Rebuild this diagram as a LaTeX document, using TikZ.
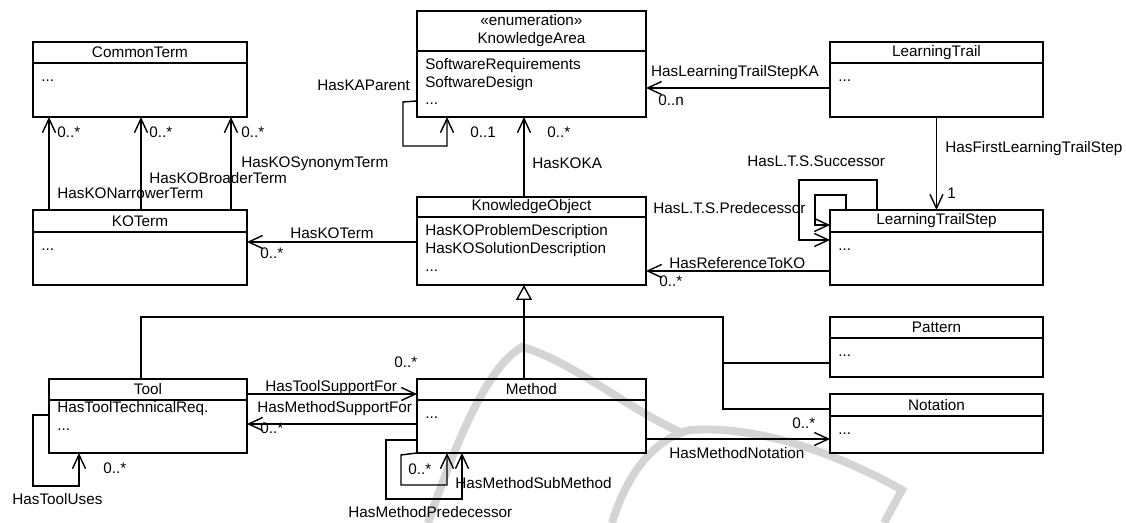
\documentclass[tikz,border=0pt]{standalone}
\usepackage{fontspec}
\setmainfont{Liberation Sans}
\usetikzlibrary{positioning,arrows.meta}

\begin{document}
\begin{tikzpicture}[x=0.02cm, y=-0.02cm, font=\fontsize{8.7}{10.2}\selectfont,
 headnode/.style={draw, line width=0.8pt, outer sep=0pt, inner sep=0pt, anchor=north west, align=center},
 bodynode/.style={draw, line width=0.8pt, outer sep=0pt, inner sep=0pt},
 attrnode/.style={anchor=north west, align=left, inner xsep=4.5pt, inner ysep=3pt},
 textnode/.style={anchor=west, inner sep=0pt, text height=6.2pt, text depth=0pt},
 assoc/.style={line width=0.8pt, -{Straight Barb[length=2.8mm, width=2.6mm]}},
 inherit/.style={line width=0.8pt, -{Triangle[length=3mm, width=3.2mm, fill=white]}},
 plain/.style={line width=0.8pt},
 watermark/.style={line width=4.5pt, black!17}, ]

 \useasboundingbox (0,0) rectangle (1126,523);

 % watermark
 \draw[watermark] (428,523) .. controls (460,430) and (490,365) .. (522,347) .. controls (570,360) and (630,410) .. (680,432);
 \draw[watermark] (612,523) .. controls (625,480) and (650,440) .. (690,430) .. controls (760,425) and (840,455) .. (902,490) -- (884,523);

 % classes
 \node[headnode, minimum width=4.28cm, minimum height=0.42cm] (ct-h) at (33,42) {CommonTerm};
 \node[bodynode, minimum width=4.28cm, minimum height=1.08cm, below=0pt of ct-h] (ct-b) {};
 \node[attrnode] (ct-a) at (ct-b.north west) {\strut...};

 \node[headnode, minimum width=4.28cm, minimum height=0.44cm] (kot-h) at (33,210) {KOTerm};
 \node[bodynode, minimum width=4.28cm, minimum height=1.06cm, below=0pt of kot-h] (kot-b) {};
 \node[attrnode] (kot-a) at (kot-b.north west) {\strut...};

 \node[headnode, minimum width=4.58cm, minimum height=0.80cm] (ka-h) at (417,11) {«enumeration»\\KnowledgeArea};
 \node[bodynode, minimum width=4.58cm, minimum height=1.32cm, below=0pt of ka-h] (ka-b) {};
 \node[attrnode] (ka-a) at (ka-b.north west) {\strut SoftwareRequirements\\SoftwareDesign\\...};

 \node[headnode, minimum width=4.26cm, minimum height=0.42cm] (lt-h) at (830,42) {LearningTrail};
 \node[bodynode, minimum width=4.26cm, minimum height=1.08cm, below=0pt of lt-h] (lt-b) {};
 \node[attrnode] (lt-a) at (lt-b.north west) {\strut...};

 \node[headnode, minimum width=4.58cm, minimum height=0.40cm] (ko-h) at (417,197) {KnowledgeObject};
 \node[bodynode, minimum width=4.58cm, minimum height=1.36cm, below=0pt of ko-h] (ko-b) {};
 \node[attrnode] (ko-a) at (ko-b.north west) {\strut HasKOProblemDescription\\HasKOSolutionDescription\\...};

 \node[headnode, minimum width=4.26cm, minimum height=0.44cm] (lts-h) at (830,210) {LearningTrailStep};
 \node[bodynode, minimum width=4.26cm, minimum height=1.06cm, below=0pt of lts-h] (lts-b) {};
 \node[attrnode] (lts-a) at (lts-b.north west) {\strut...};

 \node[headnode, minimum width=4.26cm, minimum height=0.42cm] (pat-h) at (830,317) {Pattern};
 \node[bodynode, minimum width=4.26cm, minimum height=0.78cm, below=0pt of pat-h] (pat-b) {};
 \node[attrnode] (pat-a) at (pat-b.north west) {\strut...};

 \node[headnode, minimum width=4.26cm, minimum height=0.44cm] (not-h) at (830,394) {Notation};
 \node[bodynode, minimum width=4.26cm, minimum height=0.74cm, below=0pt of not-h] (not-b) {};
 \node[attrnode] (not-a) at (not-b.north west) {\strut...};

 \node[headnode, minimum width=3.96cm, minimum height=0.42cm] (tool-h) at (49,379) {Tool};
 \node[bodynode, minimum width=3.96cm, minimum height=1.06cm, below=0pt of tool-h] (tool-b) {};
 \node[attrnode, yshift=0.12cm] (tool-a) at (tool-b.north west) {\strut HasToolTechnicalReq.\\...};

 \node[headnode, minimum width=4.58cm, minimum height=0.42cm] (meth-h) at (417,379) {Method};
 \node[bodynode, minimum width=4.58cm, minimum height=1.06cm, below=0pt of meth-h] (meth-b) {};
 \node[attrnode] (meth-a) at (meth-b.north west) {\strut...};

 % associations
 \draw[assoc] ([xshift=0.32cm]kot-h.north west) -- ([xshift=0.32cm]ct-b.south west);
 \draw[assoc] ([xshift=2.16cm]kot-h.north west) -- ([xshift=2.16cm]ct-b.south west);
 \draw[assoc] ([xshift=3.96cm]kot-h.north west) -- ([xshift=3.96cm]ct-b.south west);

 \draw[assoc] ([yshift=0.32cm]ka-b.south west) -- ++(-14,1) -- ++(0,44) -| ([xshift=0.6cm]ka-b.south west);
 \draw[assoc] ([xshift=-0.15cm]ko-h.north) -- ([xshift=-0.15cm]ka-b.south);

 \coordinate (lt-k) at ([yshift=-0.5cm]lt-b.north west);
 \draw[assoc] (lt-k) -- (lt-k -| ka-b.east);
 \draw[assoc] (lt-b.south) -- (lts-h.north);

 \draw[assoc] ([xshift=0.94cm]lts-h.north west) |- ++(-78,-30) |- ([yshift=-0.6cm]lts-h.north west);
 \draw[assoc] ([xshift=0.32cm]lts-h.north west) |- ++(-31,-15) |- ([yshift=-0.3cm]lts-h.north west);

 \coordinate (lts-r) at ([yshift=-0.78cm]lts-b.north west);
 \draw[assoc] (lts-r) -- (lts-r -| ko-b.east);

 \coordinate (ko-t) at ([yshift=-0.5cm]ko-b.north west);
 \draw[assoc] (ko-t) -- (ko-t -| kot-b.east);

 \draw[assoc] ([yshift=-0.3cm]tool-h.north east) -- ([yshift=-0.3cm]meth-h.north west);
 \draw[assoc] ([yshift=-0.48cm]meth-b.north west) -- ([yshift=-0.48cm]tool-b.north east);
 \draw[assoc] ([yshift=-0.3cm]tool-b.north west) -- ++(-16,0) -- ++(0,71) -| ([xshift=0.6cm]tool-b.south west);

 \draw[assoc] (meth-b.south west) -- ++(-16,2) -- ++(0,30) -| ([xshift=0.6cm]meth-b.south west);
 \draw[assoc] ([yshift=0.26cm]meth-b.south west) -- ++(-31,0) -- ++(0,59) -| ([xshift=0.9cm]meth-b.south west);

 \coordinate (meth-n) at ([yshift=-0.78cm]meth-b.north east);
 \draw[assoc] (meth-n) -- (meth-n -| not-b.west);

 % inheritance
 \draw[inherit] ([xshift=-0.15cm]meth-h.north) -- ([xshift=-0.15cm]ko-b.south);
 \coordinate (split) at (723,317);
 \coordinate (pat-l) at ([yshift=-0.5cm]pat-b.north west);
 \draw[plain] ([xshift=-0.14cm]tool-h.north) |- (split) |- ([yshift=-0.3cm]not-h.north west);
 \draw[plain] (split |- pat-l) -- (pat-l);

 % labels
 \node[textnode] (m-narrow) at (57,132) {0..*};
 \node[textnode] (m-broad) at (149,132) {0..*};
 \node[textnode] (m-syn) at (241,132) {0..*};
 \node[textnode] (l-narrow) at (57,193) {HasKONarrowerTerm};
 \node[textnode] (l-broad) at (149,178) {HasKOBroaderTerm};
 \node[textnode] (l-syn) at (241,162) {HasKOSynonymTerm};
 \node[textnode] (l-kap) at (317,85) {HasKAParent};
 \node[textnode] (m-kap) at (470,132) {0..1};
 \node[textnode] (m-koka) at (547,132) {0..*};
 \node[textnode] (l-koka) at (532,163) {HasKOKA};
 \node[textnode, anchor=center] (l-ltska) at (735,71) {HasLearningTrailStepKA};
 \node[textnode] (m-ltska) at (658,100) {0..n};
 \node[textnode] (l-first) at (945,147) {HasFirstLearningTrailStep};
 \node[textnode] (m-first) at (947,193) {1};
 \node[textnode] (l-succ) at (747,161) {HasL.T.S.Successor};
 \node[textnode] (l-pred) at (653,208) {HasL.T.S.Predecessor};
 \node[textnode] (l-ref) at (669,263) {HasReferenceToKO};
 \node[textnode] (m-ref) at (659,281) {0..*};
 \node[textnode] (l-kot) at (290,233) {HasKOTerm};
 \node[textnode] (m-kot) at (260,253) {0..*};
 \node[textnode] (l-tsf) at (265,386) {HasToolSupportFor};
 \node[textnode] (m-tsf) at (394,362) {0..*};
 \node[textnode] (l-msf) at (257,407) {HasMethodSupportFor};
 \node[textnode] (m-msf) at (260,428) {0..*};
 \node[textnode] (l-uses) at (12,499) {HasToolUses};
 \node[textnode] (m-uses) at (103,468) {0..*};
 \node[textnode] (l-note) at (669,453) {HasMethodNotation};
 \node[textnode] (m-note) at (792,423) {0..*};
 \node[textnode] (l-sub) at (455,483) {HasMethodSubMethod};
 \node[textnode] (m-sub) at (408,469) {0..*};
 \node[textnode] (l-mpred) at (348,512) {HasMethodPredecessor};
\end{tikzpicture}
\end{document}
